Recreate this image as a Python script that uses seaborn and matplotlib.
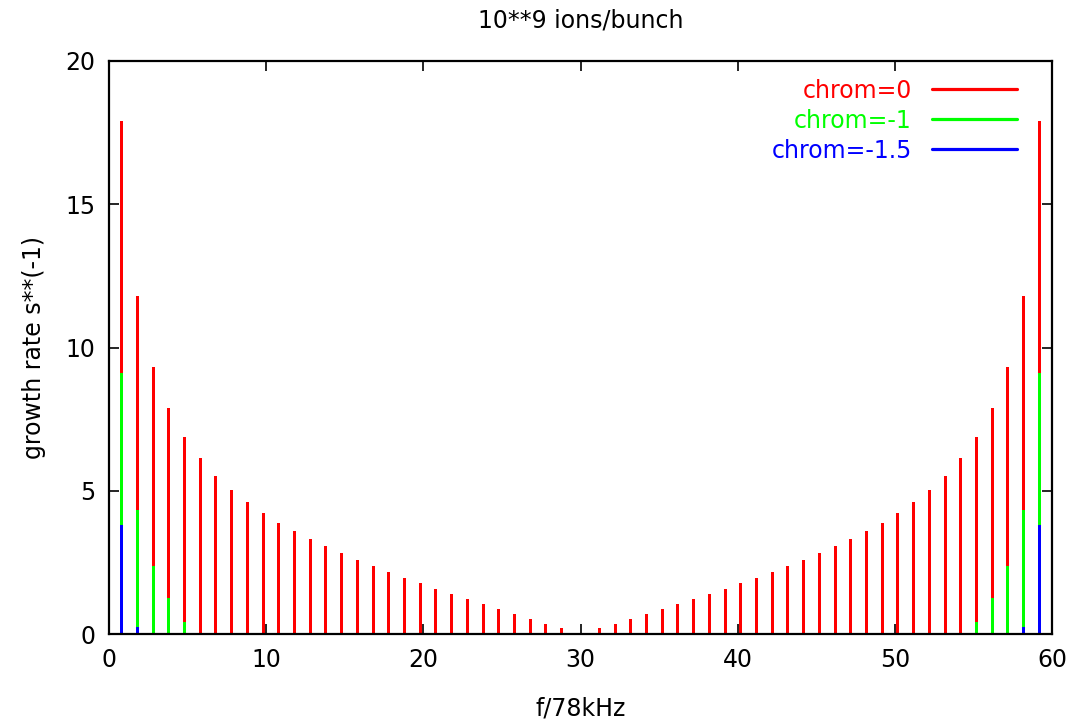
import matplotlib
matplotlib.use("Agg")
import matplotlib.pyplot as plt
from matplotlib.lines import Line2D
import seaborn as sns
import pandas as pd

# ---- data ----
freq = [0.8, 1.8, 2.8, 3.8, 4.8, 5.8, 6.8, 7.8, 8.8, 9.8,
        10.8, 11.8, 12.8, 13.8, 14.8, 15.8, 16.8, 17.8, 18.8, 19.8,
        20.8, 21.8, 22.8, 23.8, 24.8, 25.8, 26.8, 27.8, 28.8,
        31.2, 32.2, 33.2, 34.2, 35.2, 36.2, 37.2, 38.2, 39.2, 40.2,
        41.2, 42.2, 43.2, 44.2, 45.2, 46.2, 47.2, 48.2, 49.2, 50.2,
        51.2, 52.2, 53.2, 54.2, 55.2, 56.2, 57.2, 58.2, 59.2]

chrom0 = [17.9, 11.8, 9.33, 7.89, 6.88, 6.14, 5.52, 5.03, 4.60, 4.23,
          3.88, 3.58, 3.32, 3.07, 2.83, 2.59, 2.37, 2.16, 1.96, 1.77,
          1.58, 1.40, 1.21, 1.05, 0.87, 0.70, 0.52, 0.36, 0.20,
          0.20, 0.36, 0.52, 0.70, 0.87, 1.05, 1.21, 1.40, 1.58, 1.77,
          1.96, 2.16, 2.37, 2.59, 2.83, 3.07, 3.32, 3.58, 3.88, 4.23,
          4.60, 5.03, 5.52, 6.14, 6.88, 7.89, 9.33, 11.8, 17.9]

chrom_m1 = [9.10, 4.33, 2.38, 1.24, 0.43, 0, 0, 0, 0, 0,
            0, 0, 0, 0, 0, 0, 0, 0, 0, 0,
            0, 0, 0, 0, 0, 0, 0, 0, 0,
            0, 0, 0, 0, 0, 0, 0, 0, 0, 0,
            0, 0, 0, 0, 0, 0, 0, 0, 0, 0,
            0, 0, 0, 0, 0.43, 1.24, 2.38, 4.33, 9.10]

chrom_m15 = [3.82, 0.26, 0, 0, 0, 0, 0, 0, 0, 0,
             0, 0, 0, 0, 0, 0, 0, 0, 0, 0,
             0, 0, 0, 0, 0, 0, 0, 0, 0,
             0, 0, 0, 0, 0, 0, 0, 0, 0, 0,
             0, 0, 0, 0, 0, 0, 0, 0, 0, 0,
             0, 0, 0, 0, 0, 0, 0, 0.26, 3.82]

series_labels = ["chrom=0", "chrom=-1", "chrom=-1.5"]
series_colors = ["#ff0000", "#00ff00", "#0000ff"]

title = "10**9 ions/bunch"
xlabel = "f/78kHz"
ylabel = "growth rate s**(-1)"
xticks = [0, 10, 20, 30, 40, 50, 60]
yticks = [0, 5, 10, 15, 20]

# ---- style ----
sns.set_style("ticks")
plt.rcParams["font.family"] = ["DejaVu Sans"]
plt.rcParams["text.color"] = "black"
plt.rcParams["axes.labelcolor"] = "black"
plt.rcParams["xtick.color"] = "black"
plt.rcParams["ytick.color"] = "black"
FS = 17

fig = plt.figure(figsize=(10.71, 7.25), dpi=100)
ax = fig.add_axes([109 / 1071, 1 - 634 / 725, (1052 - 109) / 1071, (634 - 61) / 725])

for vals, col in zip([chrom0, chrom_m1, chrom_m15], series_colors):
    df = pd.DataFrame({"f": freq, "rate": vals})
    sns.barplot(data=df, x="f", y="rate", native_scale=True, width=0.191,
                color=col, saturation=1, linewidth=0, errorbar=None, ax=ax)

ax.set_xlim(0, 60)
ax.set_ylim(0, 20)
ax.set_xticks(xticks)
ax.set_yticks(yticks)
ax.set_xticklabels([str(t) for t in xticks])
ax.set_yticklabels([str(t) for t in yticks])
ax.tick_params(direction="in", length=7, width=1.2, top=True, right=True,
               labelsize=FS, colors="black", labelcolor="black", pad=10)
for s in ax.spines.values():
    s.set_visible(True)
    s.set_linewidth(1.6)
    s.set_color("black")

ax.set_title(title, fontsize=FS, pad=24, color="black")
ax.set_xlabel(xlabel, fontsize=FS, labelpad=18, color="black")
ax.set_ylabel(ylabel, fontsize=FS, labelpad=14, color="black")

handles = [Line2D([0], [0], color=c, lw=2.3) for c in series_colors]
leg = ax.legend(handles, series_labels, loc="upper right",
                bbox_to_anchor=(0.9629, 0.969), borderaxespad=0, borderpad=0,
                frameon=False, markerfirst=False, fontsize=FS,
                handlelength=3.6, handletextpad=0.85, labelspacing=0.25)
for txt, col in zip(leg.get_texts(), series_colors):
    txt.set_color(col)

fig.savefig("out.png", dpi=100)
